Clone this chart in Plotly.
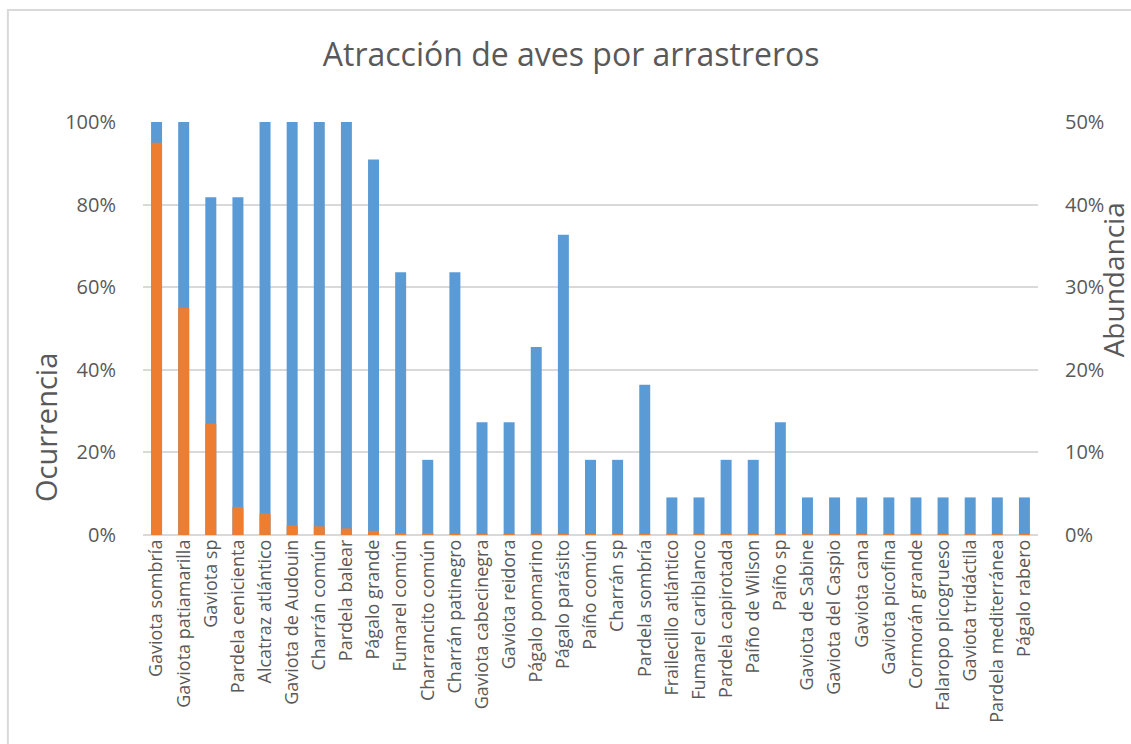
import plotly.graph_objects as go

# ── data ──────────────────────────────────────────────────────────────────────
especies = [
    "Gaviota sombría", "Gaviota patiamarilla", "Gaviota sp", "Pardela cenicienta",
    "Alcatraz atlántico", "Gaviota de Audouin", "Charrán común", "Pardela balear",
    "Págalo grande", "Fumarel común", "Charrancito común", "Charrán patinegro",
    "Gaviota cabecinegra", "Gaviota reidora", "Págalo pomarino", "Págalo parásito",
    "Paíño común", "Charrán sp", "Pardela sombría", "Frailecillo atlántico",
    "Fumarel cariblanco", "Pardela capirotada", "Paíño de Wilson", "Paíño sp",
    "Gaviota de Sabine", "Gaviota del Caspio", "Gaviota cana", "Gaviota picofina",
    "Cormorán grande", "Falaropo picogrueso", "Gaviota tridáctila",
    "Pardela mediterránea", "Págalo rabero",
]

# % de lances con presencia (eje izquierdo)
ocurrencia = [
    100, 100, 81.8, 81.8, 100, 100, 100, 100, 90.9, 63.6, 18.2, 63.6,
    27.3, 27.3, 45.5, 72.7, 18.2, 18.2, 36.4, 9.1, 9.1, 18.2, 18.2, 27.3,
    9.1, 9.1, 9.1, 9.1, 9.1, 9.1, 9.1, 9.1, 9.1,
]

# % del total de aves (eje derecho)
abundancia = [
    47.5, 27.5, 13.5, 3.4, 2.6, 1.15, 1.05, 0.8, 0.5, 0.25, 0.15, 0.12,
    0.08, 0.05, 0.04, 0.04, 0.02, 0.02, 0.02, 0.01, 0.01, 0.01, 0.01, 0.01,
    0.01, 0.01, 0.01, 0.01, 0.01, 0.01, 0.01, 0.01, 0.01,
]

left_ticks = [0, 20, 40, 60, 80, 100]
right_ticks = [0, 10, 20, 30, 40, 50]

# ── style ─────────────────────────────────────────────────────────────────────
BLUE = "#5B9BD5"
ORANGE = "#ED7D31"
GRID = "#D9D9D9"
TEXT = "#595959"
FONT = "Open Sans, sans-serif"

fig = go.Figure()
fig.add_trace(go.Bar(x=especies, y=ocurrencia, name="Ocurrencia",
                     marker_color=BLUE, marker_line_width=0))
fig.add_trace(go.Bar(x=especies, y=abundancia, name="Abundancia", yaxis="y2",
                     marker_color=ORANGE, marker_line_width=0))

fig.update_layout(
    width=1131, height=744,
    font=dict(family=FONT, color=TEXT, size=18),
    paper_bgcolor="white", plot_bgcolor="white",
    showlegend=False,
    barmode="overlay",
    bargap=0.595,
    margin=dict(l=143, r=93, t=122, b=209),
    title=dict(text="Atracción de aves por arrastreros", x=0.505, xanchor="center",
               y=0.926, yanchor="middle", font=dict(size=32, color=TEXT)),
    xaxis=dict(tickangle=-90, showgrid=False, showline=False, ticks="",
               tickfont=dict(size=18, color=TEXT)),
    yaxis=dict(range=[0, 100], tickmode="array", tickvals=left_ticks,
               ticktext=[f"{v}%" for v in left_ticks],
               showgrid=True, gridcolor=GRID, gridwidth=1.5,
               zeroline=True, zerolinecolor=GRID, zerolinewidth=1.5,
               ticks="outside", ticklen=22, tickcolor="rgba(0,0,0,0)",
               tickfont=dict(size=20, color=TEXT)),
    yaxis2=dict(range=[0, 50], tickmode="array", tickvals=right_ticks,
                ticktext=[f"{v}%" for v in right_ticks],
                overlaying="y", side="right", showgrid=False, zeroline=False,
                ticks="outside", ticklen=22, tickcolor="rgba(0,0,0,0)",
                tickfont=dict(size=20, color=TEXT)),
)

# axis titles placed like the Excel original
fig.add_annotation(text="Ocurrencia", xref="paper", yref="paper",
                   x=-0.109, y=0.26, textangle=-90, showarrow=False,
                   xanchor="center", yanchor="middle",
                   font=dict(size=29, color=TEXT))
fig.add_annotation(text="Abundancia", xref="paper", yref="paper",
                   x=1.084, y=0.617, textangle=-90, showarrow=False,
                   xanchor="center", yanchor="middle",
                   font=dict(size=28, color=TEXT))

# chart-area border (right and bottom edges fall outside the picture)
fig.add_shape(type="rect", xref="paper", yref="paper",
              x0=-0.151, y0=-0.6, x1=1.3, y1=1.271,
              line=dict(color=GRID, width=2), fillcolor="rgba(0,0,0,0)")

# drop the default 8px body margin so the figure fills the window exactly
fig.write_html("out.html", config={"displayModeBar": False},
               post_script="document.body.style.margin = '0';")
